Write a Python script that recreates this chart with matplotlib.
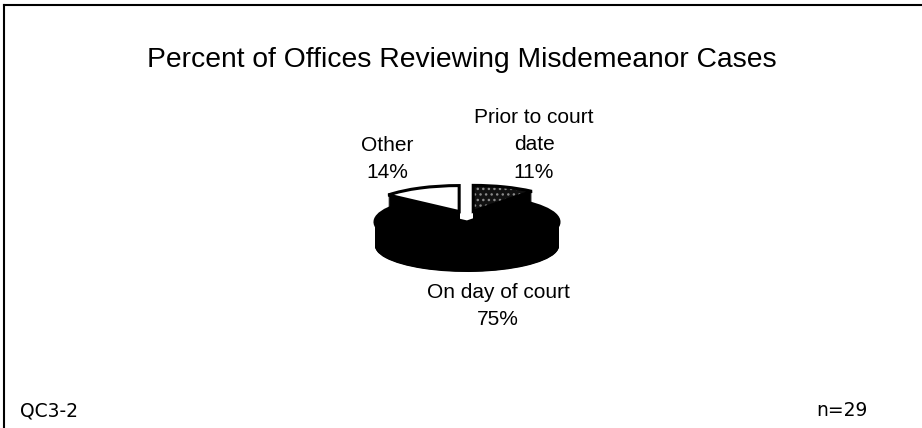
import numpy as np
import matplotlib
matplotlib.use("Agg")
import matplotlib.pyplot as plt

title = "Percent of Offices Reviewing Misdemeanor Cases"
labels = ["Prior to court\ndate", "On day of court", "Other"]
values = [11, 75, 14]
footer_left = "QC3-2"
footer_right = "n=29"

W, H = 922, 428
fig = plt.figure(figsize=(W / 100, H / 100), dpi=100)
plt.rcParams['font.family'] = ['Liberation Sans', 'DejaVu Sans']

# background axes in pixel coords
bg = fig.add_axes([0, 0, 1, 1])
bg.set_xlim(0, W)
bg.set_ylim(H, 0)
bg.axis('off')
bg.plot([4, 4], [5, H], color='black', lw=1.5)
bg.plot([4, W], [5, 5], color='black', lw=1.5)

bg.text(462, 60, title, ha='center', va='center', fontsize=20.3)
bg.text(20, 411, footer_left, ha='left', va='center', fontsize=13.5,
        family=['DejaVu Sans'])
bg.text(868, 411, footer_right, ha='right', va='center', fontsize=13.5,
        family=['DejaVu Sans'])

# pie axes (ellipse by non-equal aspect)
cx, cy = 467, 222
ax_px, ay_px = 92, 26
xl = (-1.3, 1.3)
yl = (-2.4, 1.8)
left = cx + xl[0] * ax_px
right = cx + xl[1] * ax_px
top = cy - yl[1] * ay_px
bottom = cy - yl[0] * ay_px
pax = fig.add_axes([left / W, (H - bottom) / H, (right - left) / W, (bottom - top) / H])

explode = [0.2, 0.0, 0.2]
lift = [0.22, 0.0, 0.22]
depth = 24 / ay_px


def draw_pie(off, idx, **kw):
    ws, _ = pax.pie(values, startangle=90, counterclock=False, explode=explode,
                    center=(0, off), radius=1, **kw)
    for i, wd in enumerate(ws):
        if i != idx:
            wd.set_visible(False)
    return ws[idx]


# main slice first (side + top), then raised exploded slices
for idx in [1, 0, 2]:
    for d in np.linspace(depth, 0.0, 50):
        draw_pie(lift[idx] - d, idx, colors=['black'] * 3,
                 wedgeprops=dict(linewidth=0))
    face = ['#111111', 'black', 'white'][idx]
    draw_pie(lift[idx], idx, colors=[face] * 3, wedgeprops=dict(linewidth=0))
    if idx == 0:
        wh = draw_pie(lift[idx], idx, colors=['none'] * 3,
                      wedgeprops=dict(linewidth=0, edgecolor='#8a8a8a'))
        wh.set_hatch('...')
    draw_pie(lift[idx], idx,
             wedgeprops=dict(linewidth=2.2, edgecolor='black', facecolor='none'))

pax.set_aspect('auto')
pax.set_xlim(*xl)
pax.set_ylim(*yl)
pax.axis('off')

# labels
bg.text(534, 145, labels[0] + "\n" + f"{values[0]}%", ha='center', va='center',
        fontsize=15, linespacing=1.55)
bg.text(498, 306, labels[1] + "\n" + f"{values[1]}%", ha='center', va='center',
        fontsize=15, linespacing=1.55)
bg.text(387, 159, labels[2] + "\n" + f"{values[2]}%", ha='center', va='center',
        fontsize=15, linespacing=1.55)

fig.savefig("out.png", dpi=100)
